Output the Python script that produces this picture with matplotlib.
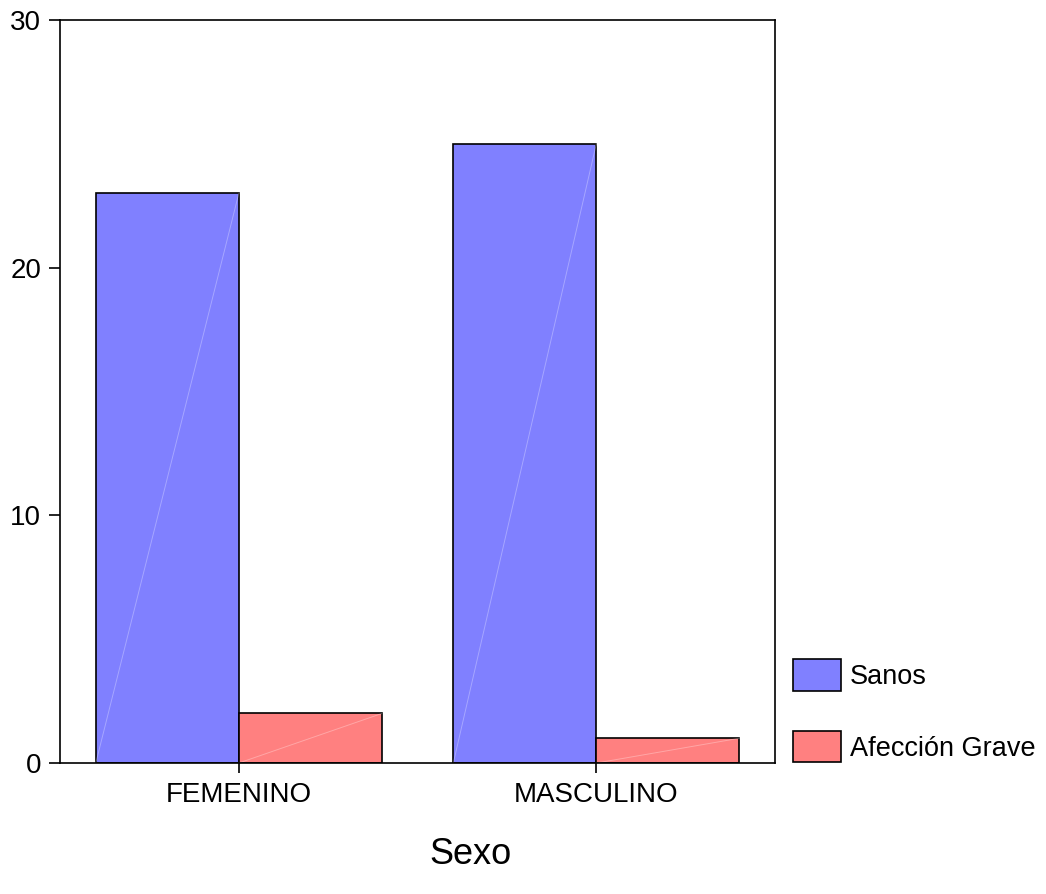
import numpy as np
import matplotlib.pyplot as plt

plt.rcParams['font.family'] = ['Liberation Sans', 'DejaVu Sans']

# Datos
categorias = ["FEMENINO", "MASCULINO"]
sanos = [23, 25]
afeccion_grave = [2, 1]
series = ["Sanos", "Afección Grave"]
colores = ["#8080ff", "#ff8080"]

fig = plt.figure(figsize=(10.46, 8.94), dpi=100)
ax = fig.add_axes([0.0574, 0.1465, 0.6836, 0.8311])

x = np.arange(len(categorias))
w = 0.4
handles = []
for i, (vals, col, nombre) in enumerate(zip([sanos, afeccion_grave], colores, series)):
    pos = x - w / 2 + i * w
    b = ax.bar(pos, vals, width=w, color=col, edgecolor="black", linewidth=1.2, label=nombre)
    handles.append(b)
    # linea diagonal tenue dentro de cada barra
    for p, v in zip(pos, vals):
        ax.plot([p - w / 2, p + w / 2], [0, v], color="white", alpha=0.3, lw=0.7)

ax.set_xlim(-0.5, 1.5)
ax.set_ylim(0, 30)
ax.set_yticks([0, 10, 20, 30])
ax.set_xticks(x)
ax.set_xticklabels(categorias)
ax.tick_params(axis="both", labelsize=20, direction="out", width=1.2)
ax.tick_params(axis="y", length=8, pad=5.5)
ax.tick_params(axis="x", length=7, pad=7)
for s in ax.spines.values():
    s.set_linewidth(1.2)

fig.text(0.4495, 0.025, "Sexo", fontsize=26, ha="center", va="bottom")

fig.legend(handles=handles, labels=series, loc="lower left",
           bbox_to_anchor=(0.7475, 0.135), frameon=False, fontsize=19.5,
           handlelength=1.8, handleheight=1.4, handletextpad=0.3,
           labelspacing=1.5, borderaxespad=0)

plt.savefig("out.png", dpi=100)
